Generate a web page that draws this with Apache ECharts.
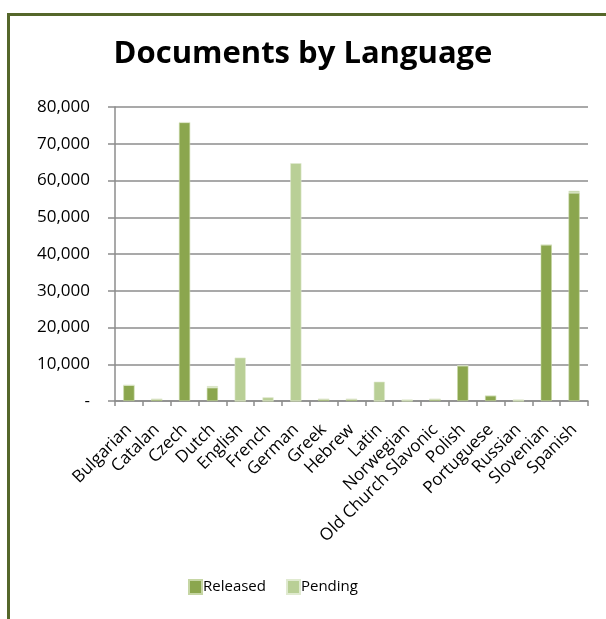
<!DOCTYPE html>
<html>
<head>
<meta charset="utf-8">
<script src="https://cdn.jsdelivr.net/npm/echarts@6/dist/echarts.min.js"></script>
<style>
  html, body { margin: 0; padding: 0; background: #fff; }
  #chart { width: 606px; height: 619px; }
</style>
</head>
<body>
<div id="chart"></div>
<script>
// Document counts per language, split into released and pending
const languages = ['Bulgarian', 'Catalan', 'Czech', 'Dutch', 'English', 'French', 'German', 'Greek',
  'Hebrew', 'Latin', 'Norwegian', 'Old Church Slavonic', 'Polish', 'Portuguese', 'Russian',
  'Slovenian', 'Spanish'];
const released = [4300, 500, 75800, 3600, 0, 0, 0, 500, 500, 0, 0, 500, 9600, 1450, 0, 42500, 56600];
const pending  = [0, 0, 0, 450, 11800, 1000, 64700, 0, 0, 5250, 400, 0, 0, 0, 400, 0, 600];
const yTicks = [0, 10000, 20000, 30000, 40000, 50000, 60000, 70000, 80000];

const FONT = '"Open Sans", "Liberation Sans", sans-serif';
const chart = echarts.init(document.getElementById('chart'), null, { renderer: 'canvas' });

chart.setOption({
  animation: false,
  backgroundColor: '#ffffff',
  title: {
    text: 'Documents by Language',
    left: 'center',
    top: 34,
    textStyle: { fontFamily: FONT, fontWeight: 'bold', fontSize: 31, color: '#000' }
  },
  legend: {
    bottom: 19,
    left: 183,
    itemWidth: 13,
    itemHeight: 14,
    itemGap: 20,
    icon: 'rect',
    textStyle: { fontFamily: FONT, fontSize: 15, color: '#000', padding: [0, 0, 0, -4] },
    data: ['Released', 'Pending']
  },
  grid: { left: 115, right: 18, top: 107, bottom: 218, containLabel: false },
  xAxis: {
    type: 'category',
    data: languages,
    axisLine: { lineStyle: { color: '#8c8c8c', width: 1.5 } },
    axisTick: { show: true, alignWithLabel: false, length: 5, lineStyle: { color: '#8c8c8c', width: 1.5 } },
    axisLabel: {
      interval: 0,
      rotate: 45,
      margin: 26,
      fontFamily: FONT,
      fontSize: 17,
      color: '#000'
    }
  },
  yAxis: {
    type: 'value',
    min: yTicks[0],
    max: yTicks[yTicks.length - 1],
    interval: yTicks[1] - yTicks[0],
    axisLine: { show: true, lineStyle: { color: '#8c8c8c', width: 1.5 } },
    axisTick: { show: true, length: 7, lineStyle: { color: '#8c8c8c', width: 1.5 } },
    splitLine: { lineStyle: { color: '#8c8c8c', width: 1.5 } },
    axisLabel: {
      margin: 25,
      fontFamily: FONT,
      fontSize: 17,
      color: '#000',
      formatter: v => v === 0 ? '-' : v.toLocaleString('en-US')
    }
  },
  series: [
    {
      name: 'Released',
      type: 'bar',
      stack: 'docs',
      barWidth: '40%',
      data: released,
      itemStyle: { color: '#8ba64e', borderColor: '#c6d6a4', borderWidth: 0.6 }
    },
    {
      name: 'Pending',
      type: 'bar',
      stack: 'docs',
      barWidth: '40%',
      data: pending,
      itemStyle: { color: '#b9cf96', borderColor: '#e0ead0', borderWidth: 0.6 }
    }
  ],
  graphic: [
    // chart frame: top and left edges
    { type: 'rect', shape: { x: 7, y: 13, width: 606, height: 3 }, style: { fill: '#55672a' }, silent: true },
    { type: 'rect', shape: { x: 7, y: 13, width: 3, height: 610 }, style: { fill: '#55672a' }, silent: true }
  ]
});
</script>
</body>
</html>
